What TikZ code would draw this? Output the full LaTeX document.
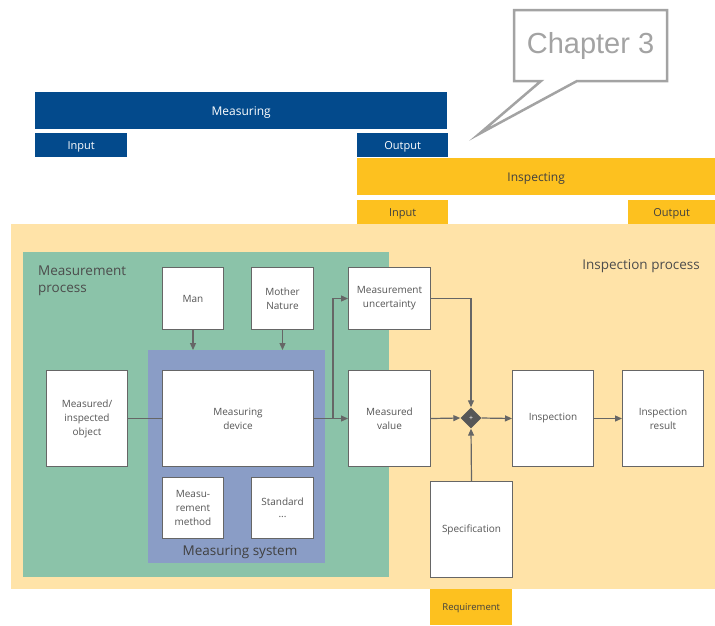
\documentclass[tikz,border=0pt]{standalone}
\usepackage{fontspec}
\setmainfont{Open Sans}
\newfontfamily\arialf{Liberation Sans}
\usetikzlibrary{arrows.meta,shapes.geometric,calc}
\definecolor{mblue}{HTML}{034A8C}
\definecolor{myel}{HTML}{FDC11F}
\definecolor{lyel}{HTML}{FFE3A8}
\definecolor{mgreen}{HTML}{8BC3A9}
\definecolor{mpurp}{HTML}{8A9DC6}
\definecolor{bgray}{HTML}{666666}
\definecolor{tgray}{HTML}{555555}
\definecolor{cgray}{HTML}{A3A3A3}
\tikzset{
  bar/.style={anchor=north west, inner sep=0, text=white, font=\fontsize{12}{14}\selectfont, text depth=0pt},
  tab/.style={anchor=north west, inner sep=0, text=white, font=\fontsize{11}{13}\selectfont, text depth=0pt},
  ytab/.style={anchor=north west, inner sep=0, fill=myel, text=black!75, font=\fontsize{11}{13}\selectfont, text depth=0pt},
  panel/.style={anchor=north west, inner sep=0},
  box/.style={anchor=north west, draw=bgray, line width=1pt, fill=white, text=tgray, align=center, inner sep=0,
    font=\fontsize{10}{14}\selectfont},
  lbl/.style={text=black!70, align=left, inner sep=0, font=\fontsize{13.5}{17}\selectfont},
  conn/.style={draw=bgray, line width=1.2pt},
  arr/.style={conn, -{Triangle[length=7pt,width=6pt]}},
}
\begin{document}
\begin{tikzpicture}[x=1pt,y=-1pt]
\useasboundingbox (0,0) rectangle (715,625);
% callout
\draw[cgray, line width=2.5pt, fill=white, line join=miter]
  (514,10) -- (667,10) -- (667,81) -- (577,81) -- (479,134) -- (541,81) -- (514,81) -- cycle;
\node[text=cgray, font=\arialf\fontsize{29}{32}\selectfont, inner sep=0] (chap) at (590.5,46) {Chapter 3};
% top bars
\node[bar, fill=mblue, minimum width=412, minimum height=37] (meas) at (35,92) {Measuring};
\node[tab, fill=mblue, minimum width=92, minimum height=24] (min) at (35,133) {Input};
\node[tab, fill=mblue, minimum width=91, minimum height=24] (mout) at (357,133) {Output};
\node[bar, fill=myel, text=black!75, minimum width=358, minimum height=37] (insp) at (357,158) {Inspecting};
\node[ytab, minimum width=91, minimum height=24] (iin) at (357,200) {Input};
\node[ytab, minimum width=87, minimum height=24] (iout) at (628,200) {Output};
% panels
\node[panel, fill=lyel, minimum width=704, minimum height=365] (ipan) at (11,224) {};
\node[panel, fill=mgreen, minimum width=366, minimum height=325] (gpan) at (23,252) {};
\node[panel, fill=mpurp, minimum width=177, minimum height=213] (sys) at (148,350) {};
\node[lbl, anchor=north west] (mproc) at (38,266) {Measurement\\process};
\node[lbl, anchor=north east] (iproc) at (700,259) {Inspection process};
\node[lbl, text=black!75] (msys) at (240,552) {Measuring system};
% boxes
\node[box, minimum width=61, minimum height=62] (man) at (162,267) {Man};
\node[box, minimum width=62, minimum height=62] (nat) at (251,267) {Mother\\Nature};
\node[box, minimum width=82, minimum height=62] (unc) at (348,267) {Measurement\\uncertainty};
\node[box, minimum width=81, minimum height=96] (obj) at (46,370) {Measured/\\inspected\\object};
\node[box, minimum width=151, minimum height=96] (dev) at (162,370) {Measuring\\device};
\node[box, minimum width=82, minimum height=96] (mval) at (348,370) {Measured\\value};
\node[box, minimum width=61, minimum height=61] (meth) at (162,477) {Measu-\\rement\\method};
\node[box, minimum width=62, minimum height=61] (std) at (251,477) {Standard\\[-2pt]...};
\node[box, minimum width=81, minimum height=96] (ins) at (512,370) {Inspection};
\node[box, minimum width=81, minimum height=96] (res) at (622,370) {Inspection\\result};
\node[box, minimum width=82, minimum height=96] (spec) at (430,481) {Specification};
\node[ytab, text=black!75, font=\fontsize{9.5}{12}\selectfont, minimum width=82, minimum height=36] (req) at (430,589) {Requirement};
% summing junction
\node[diamond, fill=bgray!85!black, minimum width=21, minimum height=21, inner sep=0, text=white,
  font=\fontsize{7}{7}\selectfont] (plus) at (471,418) {+};
% connectors
\draw[arr] (man.south) -- (man.south |- sys.north);
\draw[arr] (nat.south) -- (nat.south |- sys.north);
\draw[conn] (obj.east) -- (dev.west);
\draw[arr] (dev.east) -- (mval.west);
\coordinate (br) at (333,418);
\draw[arr] (br) |- (unc.west);
\draw[arr] (unc.east) -| (plus.north);
\draw[arr] (mval.east) -- (plus.west);
\draw[arr] (spec.north) -- (plus.south);
\draw[arr] (plus.east) -- (ins.west);
\draw[arr] (ins.east) -- (res.west);
\end{tikzpicture}
\end{document}
